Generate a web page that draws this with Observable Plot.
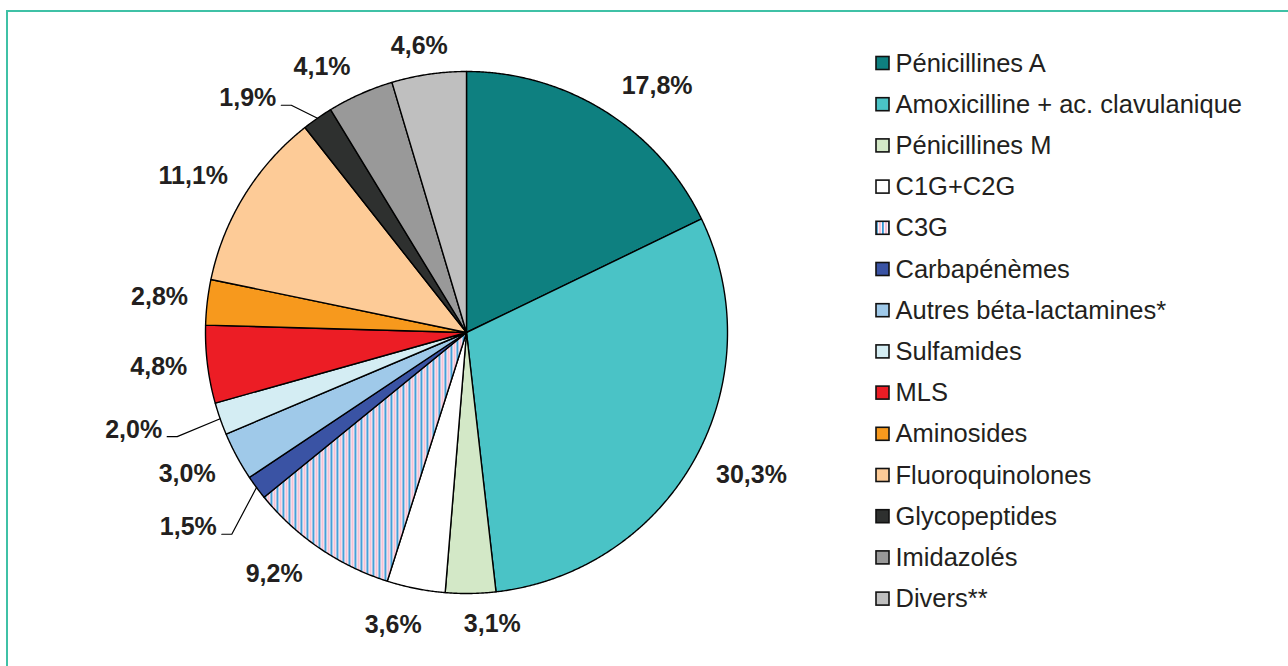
<!DOCTYPE html>
<html>
<head>
<meta charset="utf-8">
<script src="https://cdn.jsdelivr.net/npm/d3@7"></script>
<script src="https://cdn.jsdelivr.net/npm/@observablehq/plot@0.6"></script>
<style>
  html, body { margin: 0; padding: 0; background: #fff; }
  #wrap { position: relative; width: 1288px; height: 666px; overflow: hidden; }
  #frame { position: absolute; left: 6px; top: 10px; width: 1300px; height: 700px;
           border-left: 2px solid #3fc1a6; border-top: 2px solid #3fc1a6; box-sizing: border-box; }
  #chart { position: absolute; left: 0; top: 0; }
</style>
</head>
<body>
<div id="wrap"><div id="chart"></div><div id="frame"></div></div>
<script>
// ---- data ----
const categories = [
  "Pénicillines A", "Amoxicilline + ac. clavulanique", "Pénicillines M", "C1G+C2G", "C3G",
  "Carbapénèmes", "Autres béta-lactamines*", "Sulfamides", "MLS", "Aminosides",
  "Fluoroquinolones", "Glycopeptides", "Imidazolés", "Divers**"
];
const values = [17.8, 30.3, 3.1, 3.6, 9.2, 1.5, 3.0, 2.0, 4.8, 2.8, 11.1, 1.9, 4.1, 4.6];
const colors = [
  "#0e8080", "#4ac3c6", "#d3e8c7", "#ffffff", "url(#c3g)", "#3a53a4", "#9fc9e9",
  "#d4edf3", "#ec1d25", "#f7991d", "#fdcb97", "#2e302f", "#999999", "#bfbfbf"
];
// layout nudges for percentage labels (pixels, Excel-like placement)
const labelNudgeX = [28, 17, 21, -14, -20, -32, -10, -44, -4, -3, -13, -44, -20, -3];
const labelNudgeY = [13, -5, -14, -8, -11, 13, -4, -4, -3, 0, 4, 17, 14, 16];

// ---- layout ----
const W = 1288, H = 666;
const cx = 466, cy = 332, R = 261;
const legendX = 876, legendY0 = 63, legendStep = 41.2, legendBox = 13;
const font = "'Liberation Sans', Arial, Helvetica, sans-serif";
const textColor = "#231f20";
const labelSize = 25, legendSize = 25.5;

const fmt = v => v.toFixed(1).replace(".", ",") + "%";
const arcs = d3.pie().sort(null).value(d => d)(values);
const pt = (a, r) => ({x: cx + r * Math.sin(a), y: cy - r * Math.cos(a)});

const ctx = document.createElement("canvas").getContext("2d");
ctx.font = `bold ${labelSize}px 'Liberation Sans'`;

// slice polygons
const sliceMarks = arcs.map((a, i) => {
  const pts = [{x: cx, y: cy}];
  const n = Math.max(2, Math.ceil((a.endAngle - a.startAngle) / 0.005));
  for (let k = 0; k <= n; k++) pts.push(pt(a.startAngle + (a.endAngle - a.startAngle) * k / n, R));
  pts.push({x: cx, y: cy});
  return Plot.line(pts, {x: "x", y: "y", fill: colors[i], stroke: "#000", strokeWidth: 1.4, curve: "linear"});
});

// labels
const labelData = arcs.map((a, i) => {
  const mid = (a.startAngle + a.endAngle) / 2;
  const p = pt(mid, R + 45);
  const text = fmt(values[i]);
  return {x: p.x + labelNudgeX[i], y: p.y + labelNudgeY[i], text, mid, w: ctx.measureText(text).width, v: values[i]};
});

// leader lines for the smallest slices
const leaders = [];
labelData.forEach((d, i) => {
  if (d.v <= 2.0) {
    const sx = d.x + d.w / 2 + 5, sy = d.y + 7;
    const e = pt(d.mid, R);
    leaders.push({id: i, x: sx, y: sy}, {id: i, x: sx + 10, y: sy}, {id: i, x: e.x, y: e.y});
  }
});

const legendData = categories.map((c, i) => ({name: c, color: colors[i], yc: legendY0 + i * legendStep}));

const svg = Plot.plot({
  width: W, height: H, margin: 0,
  x: {domain: [0, W], range: [0, W], axis: null},
  y: {domain: [0, H], range: [0, H], axis: null},
  style: {background: "transparent", fontFamily: font},
  marks: [
    ...sliceMarks,
    Plot.line(leaders, {x: "x", y: "y", z: "id", stroke: "#000", strokeWidth: 1.2}),
    Plot.text(labelData, {x: "x", y: "y", text: "text", fontSize: labelSize, fontWeight: "bold", fill: textColor, fontFamily: font}),
    Plot.rect(legendData, {x1: () => legendX, x2: () => legendX + legendBox, y1: d => d.yc - legendBox / 2, y2: d => d.yc + legendBox / 2,
      fill: "color", stroke: "#111", strokeWidth: 1.6}),
    Plot.text(legendData, {x: () => legendX + 19, y: "yc", text: "name", textAnchor: "start", fontSize: legendSize, fill: textColor, fontFamily: font})
  ],
  color: {type: "identity"}
});

// stripe pattern for C3G
const defs = d3.select(svg).insert("defs", ":first-child");
const pat = defs.append("pattern").attr("id", "c3g").attr("patternUnits", "userSpaceOnUse")
  .attr("width", 6).attr("height", 10);
pat.append("rect").attr("width", 6).attr("height", 10).attr("fill", "#ffffff");
pat.append("rect").attr("x", 0).attr("width", 1.8).attr("height", 10).attr("fill", "#3195d4");
pat.append("rect").attr("x", 2.8).attr("width", 2.4).attr("height", 10).attr("fill", "#f6c1d5");

document.getElementById("chart").appendChild(svg);
</script>
</body>
</html>
